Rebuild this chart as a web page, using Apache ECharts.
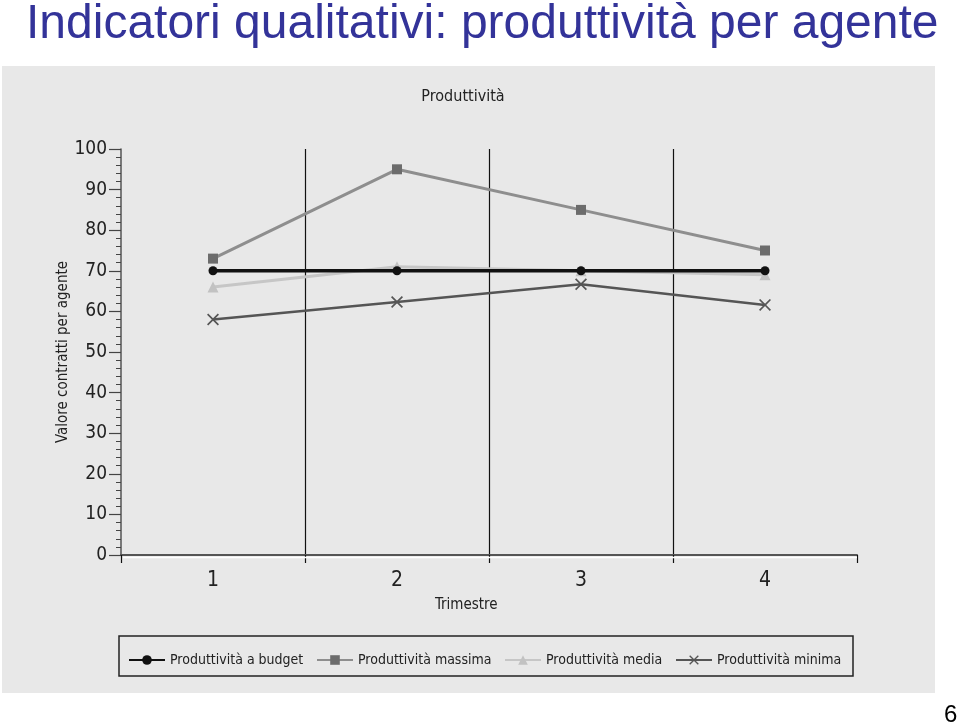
<!DOCTYPE html>
<html>
<head>
<meta charset="utf-8">
<script src="https://cdn.jsdelivr.net/npm/echarts@6/dist/echarts.min.js"></script>
<style>
html,body{margin:0;padding:0;background:#fff;}
#c{width:960px;height:722px;}
</style>
</head>
<body>
<div id="c"></div>
<script>
var categories = ['1', '2', '3', '4'];
var budget  = [70, 70, 70, 70];
var massima = [73, 95, 85, 75];
var media   = [66, 71, 70, 69];
var minima  = [58, 62.3, 66.7, 61.6];
var seriesNames = ['Produttività a budget', 'Produttività massima', 'Produttività media', 'Produttività minima'];

var FONT = '"DejaVu Sans Condensed", "Liberation Sans Narrow", sans-serif';
var crossPath = 'path://M0,1 L1,0 L5,4 L9,0 L10,1 L6,5 L10,9 L9,10 L5,6 L1,10 L0,9 L4,5 Z';

var chart = echarts.init(document.getElementById('c'));

var legendLefts = [123, 311, 499, 670];
var legends = seriesNames.map(function (n, i) {
  return {
    data: [n], left: legendLefts[i], top: 648,
    itemWidth: 36, itemHeight: 12, itemGap: 0,
    textStyle: {fontFamily: FONT, fontSize: 14, color: '#222'}
  };
});

chart.setOption({
  backgroundColor: '#fff',
  animation: false,
  title: [
    {text: 'Indicatori qualitativi: produttività per agente', left: 21, top: -4,
     textStyle: {fontFamily: '"Liberation Sans", Arial, sans-serif', fontSize: 48, fontWeight: 'normal', color: '#333399'}},
    {text: 'Produttività', left: 458, top: 84, textAlign: 'center',
     textStyle: {fontFamily: FONT, fontSize: 16, fontWeight: 'normal', color: '#222'}},
    {text: '6', left: 939, top: 698,
     textStyle: {fontFamily: '"Liberation Sans", Arial, sans-serif', fontSize: 24, fontWeight: 'normal', color: '#000'}}
  ],
  graphic: [
    {type: 'rect', z: -10, silent: true, shape: {x: 2, y: 66, width: 933, height: 627}, style: {fill: '#e8e8e8'}},
    {type: 'rect', z: 5, silent: true, shape: {x: 119, y: 636, width: 734, height: 40}, style: {fill: 'none', stroke: '#222', lineWidth: 1.5}},
    {type: 'line', z: 5, silent: true, shape: {x1: 123, y1: 557.5, x2: 857, y2: 557.5}, style: {stroke: '#fff', lineWidth: 1.5}},
    {type: 'text', z: 5, left: 435, top: 598, style: {text: 'Trimestre', fontFamily: FONT, fontSize: 15, fill: '#222'}}
  ],
  legend: legends,
  grid: {left: 121, right: 103, top: 149, bottom: 167, containLabel: false},
  xAxis: {
    type: 'category', data: categories, boundaryGap: true,
    axisLine: {lineStyle: {color: '#555', width: 2}},
    axisTick: {show: true, length: 8, lineStyle: {color: '#111', width: 1.2}},
    axisLabel: {fontFamily: FONT, fontSize: 21, color: '#222', margin: 15},
    splitLine: {show: true, showMinLine: false, showMaxLine: false, lineStyle: {color: '#111', width: 1.2}}
  },
  yAxis: {
    type: 'value', min: 0, max: 100, interval: 10,
    name: 'Valore contratti per agente', nameLocation: 'middle', nameGap: 50, nameRotate: 90,
    nameMoveOverlap: false,
    nameTextStyle: {fontFamily: FONT, fontSize: 15, color: '#222'},
    axisLine: {show: true, lineStyle: {color: '#555', width: 1.5}},
    axisTick: {show: true, length: 12, lineStyle: {color: '#444', width: 1.2}},
    minorTick: {show: true, splitNumber: 5, length: 5, lineStyle: {color: '#444', width: 1}},
    axisLabel: {fontFamily: FONT, fontSize: 19, color: '#222', margin: 14},
    splitLine: {show: false}
  },
  series: [
    {name: seriesNames[2], type: 'line', data: media, symbol: 'triangle', symbolSize: 11,
     lineStyle: {color: '#c6c6c6', width: 3}, itemStyle: {color: '#c2c2c2'}, z: 2},
    {name: seriesNames[3], type: 'line', data: minima, symbol: crossPath, symbolSize: 12,
     lineStyle: {color: '#555', width: 2.5}, itemStyle: {color: '#555'}, z: 3},
    {name: seriesNames[1], type: 'line', data: massima, symbol: 'rect', symbolSize: 10,
     lineStyle: {color: '#8e8e8e', width: 3}, itemStyle: {color: '#6c6c6c'}, z: 3},
    {name: seriesNames[0], type: 'line', data: budget, symbol: 'circle', symbolSize: 9,
     lineStyle: {color: '#111', width: 3.5}, itemStyle: {color: '#111'}, z: 4}
  ]
});
</script>
</body>
</html>
